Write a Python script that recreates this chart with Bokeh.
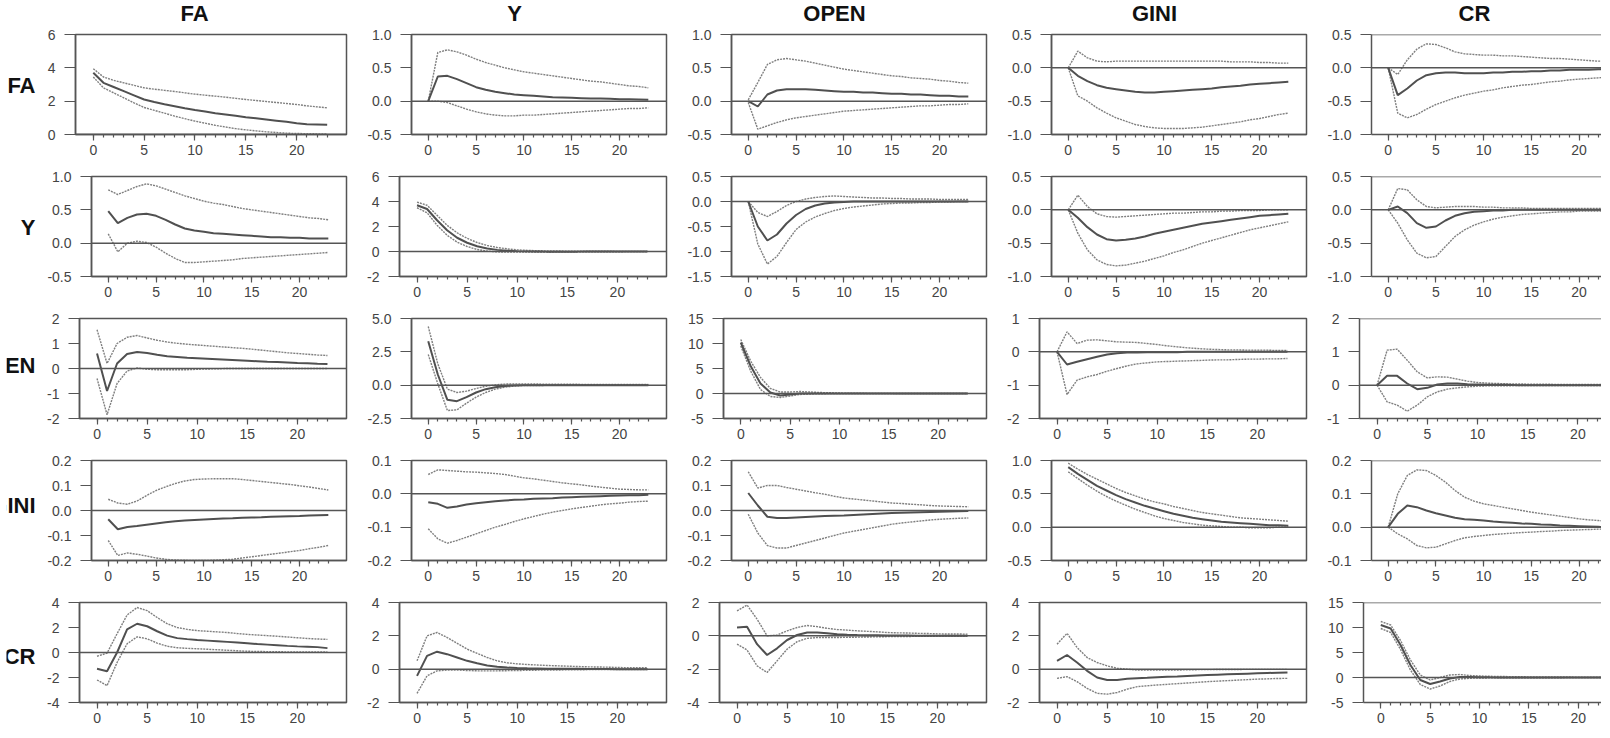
from bokeh.plotting import figure
from bokeh.layouts import row, column
from bokeh.models import FixedTicker, NumeralTickFormatter, Span, Spacer, Range1d
from bokeh.core.properties import value
from bokeh.embed import file_html
from bokeh.resources import INLINE

variables = ["FA", "Y", "OPEN", "GINI", "CR"]
periods = list(range(24))
x_major_ticks = [0, 5, 10, 15, 20]

# ---------------- row FA ----------------
irf_FA_FA = [3.70, 3.10, 2.85, 2.60, 2.35, 2.10, 1.95, 1.82, 1.70, 1.58, 1.47, 1.38, 1.28, 1.20, 1.12, 1.04, 0.97, 0.90, 0.83, 0.76, 0.68, 0.62, 0.60, 0.58]
hi_FA_FA = [3.95, 3.45, 3.25, 3.10, 2.95, 2.80, 2.72, 2.65, 2.58, 2.50, 2.42, 2.36, 2.30, 2.24, 2.17, 2.10, 2.04, 1.98, 1.92, 1.86, 1.80, 1.72, 1.66, 1.60]
lo_FA_FA = [3.45, 2.80, 2.50, 2.20, 1.90, 1.62, 1.45, 1.28, 1.10, 0.95, 0.80, 0.68, 0.55, 0.45, 0.35, 0.28, 0.22, 0.16, 0.12, 0.08, 0.06, 0.05, 0.04, 0.03]

irf_FA_Y = [0.00, 0.37, 0.38, 0.33, 0.27, 0.21, 0.17, 0.14, 0.12, 0.10, 0.09, 0.08, 0.07, 0.06, 0.055, 0.05, 0.045, 0.04, 0.04, 0.035, 0.03, 0.03, 0.025, 0.02]
hi_FA_Y = [0.00, 0.73, 0.77, 0.74, 0.69, 0.63, 0.58, 0.54, 0.50, 0.47, 0.44, 0.42, 0.40, 0.38, 0.36, 0.34, 0.32, 0.30, 0.29, 0.27, 0.25, 0.23, 0.22, 0.20]
lo_FA_Y = [0.00, 0.00, -0.02, -0.07, -0.12, -0.16, -0.19, -0.21, -0.22, -0.22, -0.21, -0.21, -0.20, -0.19, -0.18, -0.17, -0.16, -0.15, -0.14, -0.13, -0.12, -0.11, -0.11, -0.10]

irf_FA_OPEN = [0.00, -0.08, 0.10, 0.16, 0.18, 0.18, 0.18, 0.17, 0.16, 0.15, 0.14, 0.14, 0.13, 0.13, 0.12, 0.11, 0.11, 0.10, 0.10, 0.09, 0.08, 0.08, 0.07, 0.07]
hi_FA_OPEN = [0.02, 0.28, 0.55, 0.62, 0.64, 0.62, 0.60, 0.57, 0.54, 0.51, 0.48, 0.46, 0.44, 0.42, 0.40, 0.38, 0.37, 0.35, 0.34, 0.33, 0.31, 0.30, 0.28, 0.27]
lo_FA_OPEN = [-0.02, -0.42, -0.37, -0.32, -0.28, -0.25, -0.23, -0.21, -0.19, -0.17, -0.15, -0.14, -0.13, -0.12, -0.11, -0.10, -0.09, -0.08, -0.07, -0.07, -0.06, -0.05, -0.05, -0.04]

irf_FA_GINI = [0.00, -0.12, -0.20, -0.26, -0.30, -0.32, -0.34, -0.36, -0.37, -0.37, -0.36, -0.35, -0.34, -0.33, -0.32, -0.31, -0.29, -0.28, -0.27, -0.25, -0.24, -0.23, -0.22, -0.21]
hi_FA_GINI = [0.00, 0.25, 0.15, 0.10, 0.09, 0.10, 0.10, 0.10, 0.10, 0.10, 0.10, 0.10, 0.10, 0.10, 0.10, 0.10, 0.10, 0.09, 0.09, 0.09, 0.08, 0.08, 0.07, 0.07]
lo_FA_GINI = [0.00, -0.42, -0.50, -0.60, -0.68, -0.75, -0.80, -0.85, -0.88, -0.90, -0.91, -0.91, -0.91, -0.90, -0.89, -0.87, -0.85, -0.83, -0.81, -0.78, -0.76, -0.73, -0.70, -0.68]

irf_FA_CR = [0.00, -0.41, -0.31, -0.19, -0.11, -0.08, -0.07, -0.07, -0.08, -0.08, -0.08, -0.07, -0.07, -0.06, -0.06, -0.05, -0.05, -0.04, -0.04, -0.03, -0.03, -0.03, -0.02, -0.02]
hi_FA_CR = [0.00, -0.10, 0.12, 0.28, 0.36, 0.35, 0.30, 0.24, 0.21, 0.20, 0.19, 0.19, 0.18, 0.18, 0.17, 0.16, 0.15, 0.14, 0.14, 0.13, 0.12, 0.11, 0.10, 0.10]
lo_FA_CR = [0.00, -0.68, -0.75, -0.70, -0.62, -0.55, -0.50, -0.45, -0.41, -0.38, -0.35, -0.33, -0.30, -0.28, -0.26, -0.25, -0.23, -0.21, -0.20, -0.18, -0.17, -0.16, -0.15, -0.14]

# ---------------- row Y ----------------
irf_Y_FA = [0.48, 0.30, 0.38, 0.43, 0.44, 0.41, 0.35, 0.28, 0.22, 0.19, 0.17, 0.15, 0.14, 0.13, 0.12, 0.11, 0.10, 0.09, 0.09, 0.08, 0.08, 0.07, 0.07, 0.07]
hi_Y_FA = [0.80, 0.73, 0.79, 0.85, 0.89, 0.86, 0.81, 0.76, 0.71, 0.67, 0.63, 0.60, 0.58, 0.55, 0.52, 0.50, 0.48, 0.46, 0.44, 0.42, 0.40, 0.38, 0.37, 0.35]
lo_Y_FA = [0.14, -0.13, 0.00, 0.03, 0.01, -0.06, -0.15, -0.23, -0.29, -0.29, -0.28, -0.27, -0.26, -0.25, -0.23, -0.22, -0.21, -0.20, -0.19, -0.18, -0.17, -0.16, -0.15, -0.14]

irf_Y_Y = [3.70, 3.40, 2.50, 1.70, 1.10, 0.70, 0.42, 0.24, 0.13, 0.07, 0.03, 0.01, 0.00, -0.01, -0.01, -0.01, -0.01, 0.00, 0.00, 0.00, 0.00, 0.00, 0.00, 0.00]
hi_Y_Y = [3.95, 3.70, 2.90, 2.10, 1.50, 1.05, 0.72, 0.48, 0.32, 0.21, 0.13, 0.09, 0.06, 0.05, 0.04, 0.03, 0.03, 0.02, 0.02, 0.02, 0.01, 0.01, 0.01, 0.01]
lo_Y_Y = [3.50, 3.10, 2.10, 1.30, 0.75, 0.40, 0.16, 0.04, -0.03, -0.05, -0.05, -0.05, -0.04, -0.04, -0.03, -0.03, -0.03, -0.02, -0.02, -0.02, -0.02, -0.01, -0.01, -0.01]

irf_Y_OPEN = [0.00, -0.50, -0.78, -0.66, -0.44, -0.27, -0.15, -0.08, -0.04, -0.02, -0.01, 0.00, 0.00, 0.00, 0.00, 0.00, 0.00, 0.00, 0.00, 0.00, 0.00, 0.00, 0.00, 0.00]
hi_Y_OPEN = [0.00, -0.22, -0.30, -0.20, -0.08, 0.00, 0.05, 0.08, 0.10, 0.11, 0.10, 0.09, 0.08, 0.07, 0.07, 0.06, 0.06, 0.05, 0.05, 0.05, 0.04, 0.04, 0.04, 0.04]
lo_Y_OPEN = [0.00, -0.85, -1.25, -1.10, -0.82, -0.56, -0.41, -0.31, -0.24, -0.18, -0.14, -0.11, -0.09, -0.07, -0.05, -0.04, -0.03, -0.03, -0.02, -0.02, -0.01, -0.01, 0.00, 0.00]

irf_Y_GINI = [0.00, -0.12, -0.26, -0.37, -0.44, -0.46, -0.45, -0.43, -0.40, -0.36, -0.33, -0.30, -0.27, -0.24, -0.21, -0.19, -0.17, -0.15, -0.13, -0.11, -0.09, -0.08, -0.07, -0.06]
hi_Y_GINI = [0.00, 0.22, 0.05, -0.06, -0.10, -0.11, -0.10, -0.09, -0.08, -0.07, -0.06, -0.05, -0.05, -0.04, -0.03, -0.03, -0.02, -0.02, -0.01, -0.01, -0.01, 0.00, 0.00, 0.00]
lo_Y_GINI = [0.00, -0.35, -0.60, -0.75, -0.82, -0.84, -0.83, -0.80, -0.77, -0.73, -0.69, -0.64, -0.60, -0.55, -0.50, -0.46, -0.42, -0.38, -0.34, -0.30, -0.27, -0.24, -0.21, -0.18]

irf_Y_CR = [0.00, 0.05, -0.05, -0.20, -0.27, -0.25, -0.16, -0.09, -0.05, -0.03, -0.02, -0.01, -0.01, 0.00, 0.00, 0.00, 0.00, 0.00, 0.00, 0.00, 0.00, 0.00, 0.00, 0.00]
hi_Y_CR = [0.00, 0.32, 0.30, 0.15, 0.05, 0.03, 0.04, 0.05, 0.05, 0.05, 0.04, 0.04, 0.03, 0.03, 0.03, 0.02, 0.02, 0.02, 0.02, 0.02, 0.02, 0.02, 0.02, 0.02]
lo_Y_CR = [0.00, -0.20, -0.45, -0.65, -0.72, -0.70, -0.55, -0.40, -0.30, -0.23, -0.18, -0.14, -0.11, -0.09, -0.07, -0.06, -0.05, -0.04, -0.03, -0.03, -0.02, -0.02, -0.02, -0.02]

# ---------------- row OPEN ----------------
irf_OPEN_FA = [0.60, -0.90, 0.20, 0.58, 0.66, 0.62, 0.55, 0.49, 0.46, 0.43, 0.41, 0.39, 0.37, 0.35, 0.33, 0.31, 0.29, 0.27, 0.26, 0.24, 0.22, 0.21, 0.19, 0.18]
hi_OPEN_FA = [1.55, 0.20, 1.00, 1.25, 1.32, 1.22, 1.13, 1.06, 1.01, 0.97, 0.94, 0.91, 0.88, 0.85, 0.82, 0.79, 0.75, 0.71, 0.67, 0.63, 0.60, 0.57, 0.54, 0.52]
lo_OPEN_FA = [-0.40, -1.85, -0.60, -0.10, 0.02, -0.03, -0.05, -0.05, -0.05, -0.05, -0.03, -0.02, -0.01, 0.00, 0.00, 0.00, 0.00, 0.00, 0.00, 0.00, 0.00, 0.00, 0.00, 0.00]

irf_OPEN_Y = [3.30, 0.80, -1.10, -1.20, -0.90, -0.55, -0.30, -0.15, -0.06, -0.02, 0.00, 0.00, 0.00, 0.00, 0.00, 0.00, 0.00, 0.00, 0.00, 0.00, 0.00, 0.00, 0.00, 0.00]
hi_OPEN_Y = [4.40, 1.60, -0.30, -0.55, -0.45, -0.25, -0.08, 0.02, 0.08, 0.10, 0.10, 0.09, 0.08, 0.08, 0.07, 0.07, 0.06, 0.06, 0.06, 0.05, 0.05, 0.05, 0.05, 0.05]
lo_OPEN_Y = [2.30, 0.10, -1.90, -1.85, -1.35, -0.90, -0.55, -0.30, -0.15, -0.07, -0.03, -0.02, -0.02, -0.01, -0.01, -0.01, -0.01, 0.00, 0.00, 0.00, 0.00, 0.00, 0.00, 0.00]

irf_OPEN_OPEN = [10.20, 5.50, 2.00, 0.20, -0.40, -0.20, 0.00, 0.00, 0.00, 0.00, 0.00, 0.00, 0.00, 0.00, 0.00, 0.00, 0.00, 0.00, 0.00, 0.00, 0.00, 0.00, 0.00, 0.00]
hi_OPEN_OPEN = [10.80, 6.50, 3.20, 1.00, 0.30, 0.30, 0.40, 0.30, 0.20, 0.15, 0.10, 0.05, 0.05, 0.03, 0.02, 0.02, 0.01, 0.01, 0.01, 0.01, 0.01, 0.01, 0.01, 0.01]
lo_OPEN_OPEN = [9.50, 4.50, 0.80, -0.60, -0.80, -0.50, -0.20, -0.10, -0.05, -0.03, -0.02, -0.01, -0.01, 0.00, 0.00, 0.00, 0.00, 0.00, 0.00, 0.00, 0.00, 0.00, 0.00, 0.00]

irf_OPEN_GINI = [0.00, -0.38, -0.30, -0.22, -0.15, -0.08, -0.04, -0.02, -0.02, -0.01, -0.01, -0.01, -0.01, 0.00, 0.00, 0.00, 0.00, 0.00, 0.00, 0.00, 0.00, 0.00, 0.00, 0.00]
hi_OPEN_GINI = [0.00, 0.60, 0.25, 0.35, 0.36, 0.33, 0.30, 0.29, 0.28, 0.25, 0.22, 0.18, 0.15, 0.12, 0.10, 0.08, 0.07, 0.06, 0.06, 0.05, 0.05, 0.05, 0.04, 0.04]
lo_OPEN_GINI = [0.00, -1.28, -0.85, -0.75, -0.68, -0.58, -0.50, -0.42, -0.36, -0.33, -0.30, -0.29, -0.28, -0.27, -0.26, -0.25, -0.24, -0.24, -0.23, -0.22, -0.22, -0.21, -0.21, -0.20]

irf_OPEN_CR = [0.00, 0.28, 0.28, 0.05, -0.12, -0.08, 0.02, 0.05, 0.05, 0.03, 0.02, 0.01, 0.01, 0.01, 0.00, 0.00, 0.00, 0.00, 0.00, 0.00, 0.00, 0.00, 0.00, 0.00]
hi_OPEN_CR = [0.00, 1.05, 1.08, 0.75, 0.40, 0.22, 0.25, 0.24, 0.18, 0.12, 0.08, 0.06, 0.05, 0.04, 0.04, 0.03, 0.03, 0.03, 0.02, 0.02, 0.02, 0.02, 0.02, 0.02]
lo_OPEN_CR = [0.00, -0.50, -0.60, -0.78, -0.60, -0.35, -0.20, -0.12, -0.08, -0.05, -0.03, -0.02, -0.02, -0.02, -0.01, -0.01, -0.01, -0.01, -0.01, -0.01, -0.01, -0.01, -0.01, -0.01]

# ---------------- row GINI ----------------
irf_GINI_FA = [-0.035, -0.075, -0.066, -0.062, -0.057, -0.052, -0.047, -0.043, -0.040, -0.038, -0.036, -0.034, -0.032, -0.031, -0.029, -0.028, -0.027, -0.025, -0.024, -0.023, -0.022, -0.020, -0.019, -0.018]
hi_GINI_FA = [0.045, 0.030, 0.025, 0.038, 0.060, 0.080, 0.095, 0.108, 0.118, 0.124, 0.126, 0.127, 0.127, 0.127, 0.124, 0.120, 0.116, 0.112, 0.108, 0.104, 0.099, 0.094, 0.088, 0.082]
lo_GINI_FA = [-0.120, -0.180, -0.170, -0.175, -0.182, -0.190, -0.195, -0.198, -0.199, -0.200, -0.200, -0.199, -0.197, -0.195, -0.190, -0.185, -0.180, -0.175, -0.170, -0.165, -0.160, -0.153, -0.147, -0.140]

irf_GINI_Y = [-0.025, -0.030, -0.042, -0.038, -0.032, -0.028, -0.025, -0.022, -0.020, -0.018, -0.017, -0.015, -0.014, -0.013, -0.011, -0.010, -0.009, -0.008, -0.007, -0.006, -0.005, -0.004, -0.004, -0.003]
hi_GINI_Y = [0.058, 0.072, 0.070, 0.068, 0.066, 0.065, 0.063, 0.061, 0.058, 0.053, 0.048, 0.045, 0.041, 0.037, 0.033, 0.030, 0.027, 0.023, 0.020, 0.017, 0.014, 0.013, 0.012, 0.012]
lo_GINI_Y = [-0.105, -0.135, -0.148, -0.140, -0.130, -0.120, -0.110, -0.100, -0.092, -0.083, -0.075, -0.068, -0.061, -0.055, -0.050, -0.045, -0.041, -0.037, -0.033, -0.030, -0.028, -0.025, -0.023, -0.022]

irf_GINI_OPEN = [0.070, 0.020, -0.025, -0.030, -0.030, -0.028, -0.026, -0.024, -0.022, -0.021, -0.020, -0.018, -0.016, -0.014, -0.012, -0.010, -0.009, -0.008, -0.007, -0.006, -0.005, -0.004, -0.003, -0.002]
hi_GINI_OPEN = [0.155, 0.090, 0.100, 0.100, 0.092, 0.085, 0.078, 0.071, 0.065, 0.057, 0.050, 0.046, 0.042, 0.038, 0.034, 0.030, 0.028, 0.025, 0.023, 0.020, 0.018, 0.017, 0.016, 0.015]
lo_GINI_OPEN = [-0.015, -0.090, -0.140, -0.150, -0.150, -0.140, -0.130, -0.120, -0.110, -0.100, -0.090, -0.083, -0.076, -0.069, -0.062, -0.055, -0.050, -0.046, -0.042, -0.038, -0.035, -0.033, -0.031, -0.030]

irf_GINI_GINI = [0.90, 0.80, 0.71, 0.62, 0.55, 0.48, 0.42, 0.37, 0.32, 0.28, 0.24, 0.20, 0.17, 0.14, 0.12, 0.10, 0.08, 0.07, 0.06, 0.05, 0.04, 0.03, 0.03, 0.02]
hi_GINI_GINI = [0.96, 0.87, 0.79, 0.72, 0.65, 0.58, 0.52, 0.47, 0.42, 0.38, 0.35, 0.31, 0.28, 0.25, 0.22, 0.20, 0.18, 0.16, 0.14, 0.13, 0.12, 0.11, 0.10, 0.09]
lo_GINI_GINI = [0.83, 0.73, 0.63, 0.54, 0.46, 0.39, 0.33, 0.27, 0.22, 0.17, 0.13, 0.10, 0.07, 0.05, 0.03, 0.02, 0.01, 0.00, 0.00, -0.01, -0.01, -0.01, 0.00, 0.00]

irf_GINI_CR = [0.000, 0.040, 0.065, 0.060, 0.050, 0.042, 0.035, 0.028, 0.024, 0.022, 0.020, 0.017, 0.015, 0.013, 0.011, 0.010, 0.008, 0.007, 0.005, 0.004, 0.003, 0.002, 0.001, 0.000]
hi_GINI_CR = [0.000, 0.100, 0.155, 0.172, 0.170, 0.155, 0.135, 0.110, 0.090, 0.078, 0.070, 0.065, 0.060, 0.055, 0.050, 0.045, 0.041, 0.037, 0.033, 0.029, 0.025, 0.022, 0.020, 0.018]
lo_GINI_CR = [0.000, -0.020, -0.035, -0.055, -0.062, -0.060, -0.050, -0.040, -0.032, -0.028, -0.025, -0.022, -0.020, -0.018, -0.016, -0.015, -0.013, -0.012, -0.010, -0.009, -0.008, -0.007, -0.006, -0.006]

# ---------------- row CR ----------------
irf_CR_FA = [-1.30, -1.50, 0.00, 1.85, 2.30, 2.10, 1.70, 1.35, 1.15, 1.07, 1.00, 0.95, 0.90, 0.85, 0.80, 0.74, 0.68, 0.63, 0.58, 0.53, 0.49, 0.46, 0.43, 0.35]
hi_CR_FA = [-0.30, -0.05, 1.50, 3.00, 3.60, 3.35, 2.80, 2.30, 2.00, 1.85, 1.75, 1.70, 1.65, 1.60, 1.52, 1.45, 1.40, 1.35, 1.30, 1.24, 1.18, 1.12, 1.08, 1.05]
lo_CR_FA = [-2.20, -2.65, -0.80, 0.70, 1.25, 1.10, 0.75, 0.50, 0.38, 0.33, 0.30, 0.26, 0.22, 0.18, 0.14, 0.10, 0.08, 0.07, 0.06, 0.05, 0.05, 0.04, 0.04, 0.04]

irf_CR_Y = [-0.40, 0.80, 1.05, 0.90, 0.70, 0.50, 0.35, 0.22, 0.15, 0.10, 0.07, 0.05, 0.04, 0.03, 0.03, 0.02, 0.02, 0.01, 0.01, 0.01, 0.00, 0.00, 0.00, 0.00]
hi_CR_Y = [0.50, 2.00, 2.20, 1.90, 1.55, 1.20, 0.95, 0.70, 0.50, 0.38, 0.32, 0.28, 0.25, 0.22, 0.20, 0.18, 0.16, 0.14, 0.13, 0.12, 0.10, 0.09, 0.09, 0.08]
lo_CR_Y = [-1.45, -0.40, -0.10, -0.05, -0.05, -0.08, -0.10, -0.10, -0.10, -0.09, -0.08, -0.07, -0.06, -0.05, -0.05, -0.04, -0.04, -0.03, -0.03, -0.02, -0.02, -0.02, -0.02, -0.02]

irf_CR_OPEN = [0.50, 0.55, -0.50, -1.15, -0.75, -0.25, 0.05, 0.20, 0.20, 0.15, 0.10, 0.07, 0.05, 0.04, 0.03, 0.02, 0.02, 0.02, 0.01, 0.01, 0.01, 0.01, 0.01, 0.01]
hi_CR_OPEN = [1.50, 1.85, 1.00, 0.00, 0.05, 0.30, 0.50, 0.62, 0.55, 0.45, 0.38, 0.34, 0.30, 0.27, 0.24, 0.20, 0.18, 0.17, 0.15, 0.14, 0.12, 0.11, 0.11, 0.10]
lo_CR_OPEN = [-0.50, -0.85, -1.80, -2.20, -1.50, -0.80, -0.35, -0.15, -0.10, -0.10, -0.10, -0.09, -0.08, -0.07, -0.06, -0.05, -0.04, -0.04, -0.03, -0.03, -0.02, -0.02, -0.02, -0.02]

irf_CR_GINI = [0.50, 0.85, 0.40, -0.10, -0.50, -0.65, -0.65, -0.58, -0.55, -0.52, -0.48, -0.46, -0.44, -0.41, -0.38, -0.35, -0.33, -0.31, -0.29, -0.27, -0.25, -0.23, -0.21, -0.20]
hi_CR_GINI = [1.50, 2.15, 1.30, 0.70, 0.40, 0.20, 0.05, 0.00, -0.05, -0.05, -0.05, -0.05, -0.05, -0.04, -0.03, -0.03, -0.02, -0.02, -0.02, -0.01, -0.01, -0.01, -0.01, -0.01]
lo_CR_GINI = [-0.55, -0.45, -0.75, -1.15, -1.45, -1.50, -1.40, -1.20, -1.05, -1.00, -0.95, -0.91, -0.87, -0.83, -0.79, -0.75, -0.72, -0.69, -0.66, -0.63, -0.60, -0.58, -0.56, -0.55]

irf_CR_CR = [10.50, 9.80, 6.50, 2.50, -0.50, -1.30, -0.80, -0.20, 0.10, 0.10, 0.05, 0.03, 0.02, 0.02, 0.01, 0.01, 0.01, 0.00, 0.00, 0.00, 0.00, 0.00, 0.00, 0.00]
hi_CR_CR = [11.20, 10.50, 7.40, 3.50, 0.50, -0.50, 0.00, 0.50, 0.60, 0.40, 0.30, 0.25, 0.20, 0.18, 0.15, 0.13, 0.12, 0.10, 0.10, 0.09, 0.08, 0.08, 0.07, 0.07]
lo_CR_CR = [9.80, 9.00, 5.60, 1.50, -1.40, -2.30, -1.70, -0.80, -0.30, -0.15, -0.10, -0.08, -0.07, -0.06, -0.05, -0.05, -0.04, -0.04, -0.04, -0.03, -0.03, -0.03, -0.03, -0.03]

# y-axis ticks for each panel (row = response variable, one list per column)
y_ticks_FA = [[0, 2, 4, 6], [-0.5, 0, 0.5, 1.0], [-0.5, 0, 0.5, 1.0], [-1.0, -0.5, 0, 0.5], [-1.0, -0.5, 0, 0.5]]
y_ticks_Y = [[-0.5, 0, 0.5, 1.0], [-2, 0, 2, 4, 6], [-1.5, -1.0, -0.5, 0, 0.5], [-1.0, -0.5, 0, 0.5], [-1.0, -0.5, 0, 0.5]]
y_ticks_OPEN = [[-2, -1, 0, 1, 2], [-2.5, 0, 2.5, 5.0], [-5, 0, 5, 10, 15], [-2, -1, 0, 1], [-1, 0, 1, 2]]
y_ticks_GINI = [[-0.2, -0.1, 0, 0.1, 0.2], [-0.2, -0.1, 0, 0.1], [-0.2, -0.1, 0, 0.1, 0.2], [-0.5, 0, 0.5, 1.0], [-0.1, 0, 0.1, 0.2]]
y_ticks_CR = [[-4, -2, 0, 2, 4], [-2, 0, 2, 4], [-4, -2, 0, 2], [-2, 0, 2, 4], [-5, 0, 5, 10, 15]]

# ---------------- layout / style ----------------
G = globals()
FONT = "Liberation Sans"
FRAME = "#555555"
TICK_TXT = "#444444"
COL_W = 320
LAST_W = 277
LABEL_W = 44
TITLE_H = 26
ROW_H = [142, 142, 142, 142, 134]
BT = 8
BB = [34, 34, 34, 34, 26]
X_START, X_END, X_END_LAST = -1.75, 24.9, 22.35
ROW_LABEL_Y = [73, 72, 67, 64, 72]   # px from top of each row


def panel(r, c):
    rv, cv = variables[r], variables[c]
    ticks = G["y_ticks_" + rv][c]
    last = c == 4
    p = figure(width=LAST_W if last else COL_W, height=ROW_H[r],
               x_range=Range1d(X_START, X_END_LAST if last else X_END),
               y_range=Range1d(ticks[0], ticks[-1]),
               output_backend="svg", toolbar_location=None,
               min_border_left=0, min_border_right=0 if last else 18,
               min_border_top=BT, min_border_bottom=BB[r])
    p.grid.visible = False
    p.background_fill_color = "white"
    p.border_fill_color = "white"
    if last:
        p.outline_line_color = None
        p.add_layout(Span(location=ticks[-1], dimension="width",
                          line_color=FRAME, line_width=1.5))
    else:
        p.outline_line_color = FRAME
        p.outline_line_width = 1.5
        p.outline_line_alpha = 1.0

    xa = p.xaxis[0]
    xa.ticker = FixedTicker(ticks=x_major_ticks, minor_ticks=periods)
    xa.major_tick_out = 6
    xa.major_tick_in = 0
    xa.minor_tick_out = 3
    xa.minor_tick_in = 0
    xa.major_label_standoff = 4
    ya = p.yaxis[0]
    ya.ticker = FixedTicker(ticks=ticks)
    ya.major_tick_out = 11
    ya.major_tick_in = 0
    ya.major_label_standoff = 9
    fmt = "0" if all(float(t).is_integer() for t in ticks) else "0.0"
    ya.formatter = NumeralTickFormatter(format=fmt)
    for ax in (xa, ya):
        ax.axis_line_color = FRAME
        ax.axis_line_width = 1.5
        ax.major_tick_line_color = FRAME
        ax.major_tick_line_width = 1.2
        ax.minor_tick_line_width = 1.2
        ax.major_label_text_font = FONT
        ax.major_label_text_font_size = "14px"
        ax.major_label_text_color = TICK_TXT
    xa.minor_tick_line_color = FRAME
    ya.minor_tick_line_color = None

    p.add_layout(Span(location=0, dimension="width", line_color=FRAME, line_width=1.5))

    mid = G["irf_%s_%s" % (rv, cv)]
    lo = G["lo_%s_%s" % (rv, cv)]
    hi = G["hi_%s_%s" % (rv, cv)]
    p.line(periods, hi, line_color="#7f7f7f", line_width=1.4, line_dash="2 1")
    p.line(periods, lo, line_color="#7f7f7f", line_width=1.4, line_dash="2 1")
    p.line(periods, mid, line_color="#505050", line_width=2.0)
    return p


def text_fig(w, h, txt, x, y, size, align, left_border=0):
    f = figure(width=w, height=h, x_range=Range1d(0, w - left_border), y_range=Range1d(0, h),
               x_axis_type=None, y_axis_type=None, output_backend="svg",
               toolbar_location=None, min_border_left=left_border, min_border_right=0,
               min_border_top=0, min_border_bottom=0)
    f.outline_line_color = None
    f.grid.visible = False
    f.text(x=[x], y=[y], text=[txt], text_align=align, text_baseline="middle",
           text_font=value(FONT), text_font_style="bold", text_font_size=size,
           text_color="#111111")
    return f


title_row = [Spacer(width=LABEL_W, height=TITLE_H)]
for c, v in enumerate(variables):
    w = LAST_W if c == 4 else COL_W
    title_row.append(text_fig(w, TITLE_H, v, 150, 13, "22px", "center"))

rows = [row(*title_row, spacing=0)]
for r, v in enumerate(variables):
    h = ROW_H[r]
    lab = text_fig(LABEL_W, h, v, 29, h - ROW_LABEL_Y[r], "22px", "right", left_border=6)
    rows.append(row(lab, *[panel(r, c) for c in range(5)], spacing=0))

p = column(*rows, spacing=0)
open("out.html", "w").write(file_html(p, INLINE))
